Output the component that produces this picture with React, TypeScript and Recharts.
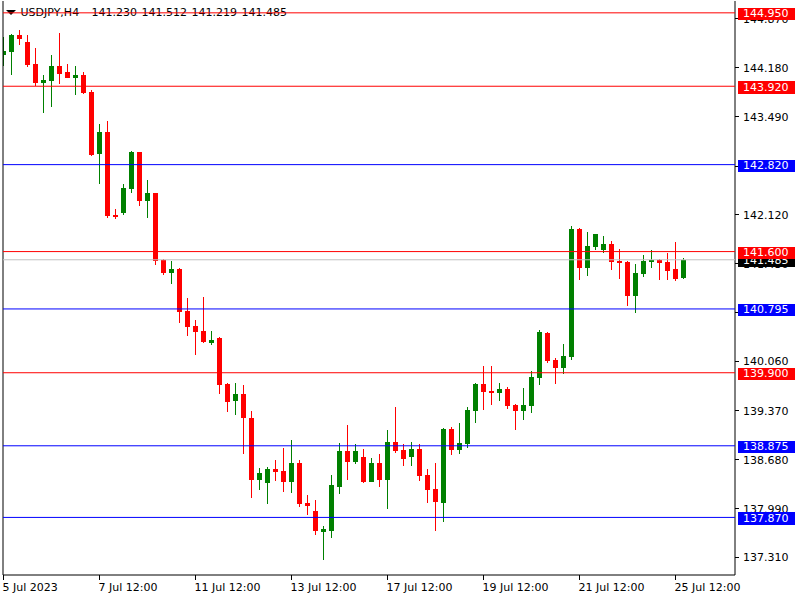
import React from 'react';
import { ComposedChart, Bar, XAxis, YAxis, ReferenceLine } from 'recharts';

const opens = [144.362,144.405,144.639,144.541,144.236,143.969,143.998,144.204,144.120,144.040,144.078,143.839,142.973,143.278,142.113,142.145,142.482,142.997,142.314,142.422,141.486,141.304,141.360,140.770,140.560,140.486,140.322,140.392,139.742,139.508,139.602,139.265,138.399,138.357,138.550,138.522,138.371,138.634,138.078,137.960,137.670,137.684,138.301,138.806,138.652,138.718,138.371,138.634,138.399,138.928,138.816,138.722,138.830,138.465,138.269,138.078,139.111,138.820,138.904,139.367,139.742,139.644,139.620,139.672,139.447,139.367,139.437,139.830,140.458,140.078,139.971,140.125,141.917,141.374,141.668,141.626,141.706,141.472,141.458,140.981,141.290,141.458,141.486,141.458,141.360,141.230];
const highs = [144.615,144.653,144.709,144.639,144.456,144.078,144.358,144.667,144.232,144.204,144.120,143.867,143.390,143.432,142.197,142.548,143.011,143.000,142.604,142.425,141.500,141.472,141.365,140.953,140.644,140.957,140.490,140.395,139.760,139.756,139.728,139.363,138.564,138.578,138.676,138.844,138.956,138.676,138.185,138.114,137.754,138.470,138.918,139.171,138.900,138.830,138.704,138.760,139.097,139.419,138.900,138.928,138.900,138.550,138.634,139.125,139.139,139.195,139.419,139.756,139.995,139.995,139.756,139.700,139.461,139.686,139.924,140.500,140.472,140.107,140.303,141.959,141.931,141.875,141.850,141.819,141.748,141.636,141.472,141.430,141.556,141.626,141.490,141.584,141.739,141.512];
const lows = [144.208,144.078,144.498,144.194,143.923,143.549,143.633,143.956,144.035,143.801,143.815,142.945,142.552,142.075,142.061,142.118,142.426,142.244,142.075,141.416,141.276,141.149,140.602,140.420,140.153,140.322,140.294,139.606,139.349,139.311,138.764,138.147,138.259,138.063,138.385,138.231,138.217,138.021,137.908,137.628,137.277,137.585,138.203,138.399,138.624,138.357,138.365,138.301,137.992,138.778,138.596,138.596,138.385,138.078,137.684,137.810,138.750,138.764,138.848,139.199,139.381,139.452,139.508,139.395,139.101,139.241,139.339,139.732,140.041,139.746,139.887,140.083,141.205,141.262,141.626,141.584,141.346,141.219,140.841,140.742,141.248,141.374,141.205,141.205,141.191,141.219];
const closes = [144.414,144.639,144.583,144.218,143.970,144.007,144.204,144.096,144.040,144.078,143.829,142.955,143.278,142.103,142.089,142.492,142.997,142.314,142.422,141.472,141.304,141.360,140.756,140.546,140.476,140.336,140.364,139.732,139.489,139.602,139.269,138.399,138.493,138.549,138.511,138.371,138.634,138.063,138.034,137.684,137.712,138.329,138.806,138.652,138.806,138.371,138.634,138.399,138.928,138.806,138.694,138.830,138.455,138.259,138.091,139.111,138.820,138.914,139.377,139.742,139.634,139.620,139.672,139.437,139.367,139.447,139.840,140.472,140.069,139.971,140.135,141.917,141.374,141.678,141.847,141.706,141.458,141.444,140.981,141.304,141.472,141.486,141.444,141.332,141.219,141.485];

const xTickIndex = [0, 12, 24, 36, 48, 60, 72, 84];
const xTickLabels = ['5 Jul 2023', '7 Jul 12:00', '11 Jul 12:00', '13 Jul 12:00', '17 Jul 12:00', '19 Jul 12:00', '21 Jul 12:00', '25 Jul 12:00'];
const yTicks = [144.87, 144.18, 143.49, 142.8, 142.12, 141.43, 140.75, 140.06, 139.37, 138.68, 137.99, 137.31];
const redLevels = [144.95, 143.92, 141.6, 139.9];
const blueLevels = [142.82, 140.795, 138.875, 137.87];
const lastPrice = 141.485;
const symbolLabel = 'USDJPY,H4';
const headerValues = ['141.230', '141.512', '141.219', '141.485'];

const Y_DOMAIN: [number, number] = [137.062, 145.116];
const X_DOMAIN: [number, number] = [-0.0625, 91.4375];
const FONT = '"DejaVu Sans", Verdana, sans-serif';

const data = opens.map((o, i) => ({ i, open: o, high: highs[i], low: lows[i], close: closes[i] }));

const Candle = (props: any) => {
  const { x, y, width, height } = props;
  const p = props.payload ?? props;
  const { open, high, low, close } = p;
  const top = Math.min(y, y + height);
  const h = Math.abs(height);
  const py = (v: number) => top + ((high - v) / (high - low)) * h;
  const cx = x + width / 2;
  const up = close >= open;
  const color = up ? '#008000' : '#FF0000';
  const bt = py(Math.max(open, close));
  const bb = py(Math.min(open, close));
  return (
    <g shapeRendering="crispEdges">
      <rect x={cx - 0.5} y={top} width={1} height={Math.max(h, 1)} fill={color} />
      <rect x={cx - 2.5} y={bt} width={5} height={Math.max(bb - bt, 1)} fill={color} />
    </g>
  );
};

const XTick = (props: any) => {
  const { x, y, payload } = props;
  const idx = xTickIndex.indexOf(payload.value);
  return (
    <g>
      <line x1={x - 0.5} x2={x - 0.5} y1={y} y2={y + 5} stroke="#000" shapeRendering="crispEdges" />
      <text x={x - 1} y={y + 16} fontSize={11} fontFamily={FONT} fill="#000" textAnchor="start">
        {idx >= 0 ? xTickLabels[idx] : ''}
      </text>
    </g>
  );
};

const YTick = (props: any) => {
  const { x, y, payload } = props;
  return (
    <g>
      <line x1={x} x2={x + 4} y1={y} y2={y} stroke="#000" shapeRendering="crispEdges" />
      <text x={x + 8} y={y + 4} fontSize={11} fontFamily={FONT} fill="#000" textAnchor="start">
        {Number(payload.value).toFixed(3)}
      </text>
    </g>
  );
};

const PriceTag = (props: any) => {
  const { viewBox, bg, value } = props;
  if (!viewBox) return null;
  const lx = viewBox.x + viewBox.width;
  const ly = viewBox.y;
  return (
    <g>
      <rect x={lx + 3} y={ly - 5} width={57} height={12.5} fill={bg} shapeRendering="crispEdges" />
      <text x={lx + 8} y={ly + 4.5} fontSize={11} fontFamily={FONT} fill="#fff" textAnchor="start">
        {value.toFixed(3)}
      </text>
    </g>
  );
};

export default function App() {
  return (
    <div style={{ position: 'relative', width: 800, height: 600, background: '#fff' }}>
      <style>{'body{margin:0;}'}</style>
      <svg width={800} height={30} style={{ position: 'absolute', left: 0, top: 0 }}>
        <polygon points="6,10 16,10 11,15" fill="#000" />
        <text fontSize={11} fontFamily={FONT} fill="#000" y={16}>
          <tspan x={20.5}>{symbolLabel}</tspan>
          {headerValues.map((v, i) => (
            <tspan key={i} x={91.5 + i * 50}>{v}</tspan>
          ))}
        </text>
      </svg>
      <div style={{ position: 'absolute', left: 0, top: 0 }}>
        <ComposedChart width={800} height={600} data={data} margin={{ top: 1, right: 0, bottom: 0, left: 0 }}>
          <XAxis
            dataKey="i"
            type="number"
            domain={X_DOMAIN}
            allowDataOverflow
            ticks={xTickIndex}
            interval={0}
            tick={<XTick />}
            tickLine={false}
            tickSize={0}
            tickMargin={0}
            axisLine={{ stroke: '#000' }}
            height={25}
          />
          <YAxis
            yAxisId="l"
            orientation="left"
            width={3}
            domain={Y_DOMAIN}
            allowDataOverflow
            tick={false}
            tickLine={false}
            axisLine={{ stroke: '#000' }}
          />
          <YAxis
            yAxisId="r"
            orientation="right"
            width={65}
            domain={Y_DOMAIN}
            allowDataOverflow
            ticks={yTicks}
            interval={0}
            tick={<YTick />}
            tickLine={false}
            tickSize={0}
            tickMargin={0}
            axisLine={{ stroke: '#000' }}
          />
          <Bar
            yAxisId="r"
            dataKey={(d: any) => [d.low, d.high]}
            barSize={8}
            shape={(p: any) => <Candle {...p} />}
            isAnimationActive={false}
          />
        </ComposedChart>
      </div>
      <div style={{ position: 'absolute', left: 0, top: 0, pointerEvents: 'none' }}>
        <ComposedChart width={800} height={600} data={data} margin={{ top: 1, right: 65, bottom: 25, left: 3 }}>
          <XAxis dataKey="i" type="number" domain={X_DOMAIN} allowDataOverflow hide />
          <YAxis yAxisId="r" domain={Y_DOMAIN} allowDataOverflow hide />
          <ReferenceLine
            yAxisId="r"
            y={lastPrice}
            stroke="#C0C0C0"
            strokeWidth={1}
            label={<PriceTag bg="#000000" value={lastPrice} />}
          />
          {blueLevels.map((v) => (
            <ReferenceLine
              key={'b' + v}
              yAxisId="r"
              y={v}
              stroke="#0000FF"
              strokeWidth={1}
              label={<PriceTag bg="#0000FF" value={v} />}
            />
          ))}
          {redLevels.map((v) => (
            <ReferenceLine
              key={'r' + v}
              yAxisId="r"
              y={v}
              stroke="#FF0000"
              strokeWidth={1}
              label={<PriceTag bg="#FF0000" value={v} />}
            />
          ))}
        </ComposedChart>
      </div>
    </div>
  );
}
